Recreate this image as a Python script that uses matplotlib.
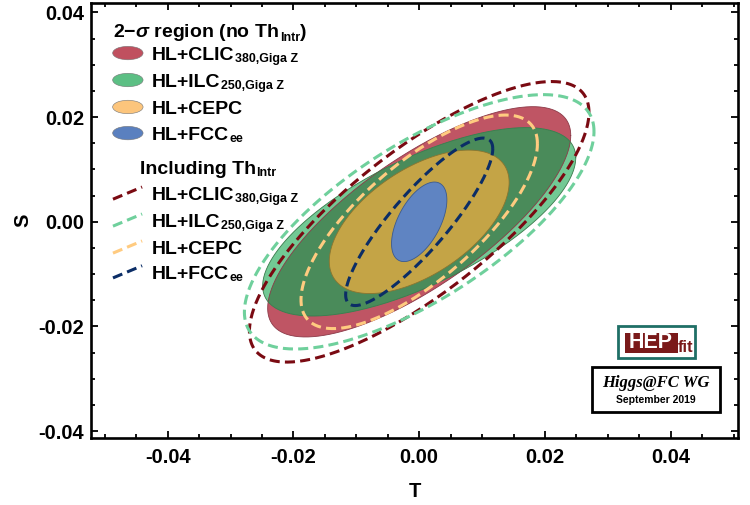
import numpy as np
import matplotlib
matplotlib.use("Agg")
import matplotlib.pyplot as plt
from matplotlib.patches import Ellipse, Rectangle
from matplotlib.lines import Line2D
from matplotlib.ticker import MultipleLocator

plt.rcParams['font.family'] = ['Liberation Sans', 'DejaVu Sans']
plt.rcParams['font.weight'] = 'bold'
plt.rcParams['mathtext.fontset'] = 'custom'
plt.rcParams['mathtext.rm'] = 'Liberation Sans:bold'
plt.rcParams['mathtext.bf'] = 'Liberation Sans:bold'
plt.rcParams['mathtext.it'] = 'Liberation Sans:italic'

# 2-sigma regions: centre, half extent in T and S, correlation
names = ["HL+CLIC", "HL+ILC", "HL+CEPC", "HL+FCC"]
subs = ["380,Giga Z", "250,Giga Z", "", "ee"]
cen_T = [0.0, 0.0, 0.0, 0.0]
cen_S = [0.0, 0.0, 0.0, 0.0]

# no theory intrinsic uncertainty (filled)
fill_T = [0.0241, 0.0249, 0.0143, 0.0044]
fill_S = [0.0220, 0.0180, 0.0137, 0.0076]
fill_rho = [0.75, 0.68, 0.55, 0.55]

# including theory intrinsic uncertainty (dashed)
incl_T = [0.0270, 0.0278, 0.0188, 0.0117]
incl_S = [0.0268, 0.0243, 0.0204, 0.0160]
incl_rho = [0.78, 0.71, 0.73, 0.87]

legend_fill = ['#c0505f', '#5cbf84', '#fcc57c', '#5a80bf']
legend_dash = ['#7a0a12', '#6fd09c', '#ffcb80', '#0b2d66']
plot_fill = ['#bf5564', '#72c994', '#c4a446', '#5f84c2']
overlap_rg = '#4a8b5a'
edge_fill = ['#8c3a48', '#3a7a4c', '#8a7530', '#3a5a90']


def ellipse(cT, cS, a, b, rho, n=400):
    t = np.linspace(0, 2 * np.pi, n)
    T = cT + a * np.cos(t)
    S = cS + b * (rho * np.cos(t) + np.sqrt(1 - rho ** 2) * np.sin(t))
    return T, S


def label(ax, x, y, main, sub, fs=14):
    t = ax.text(x, y, main, transform=ax.transAxes, fontsize=fs,
                va='baseline', zorder=20)
    s = None
    if sub:
        s = ax.annotate(sub, xy=(1, 0), xycoords=t, xytext=(0.5, 1.3),
                        textcoords='offset points', fontsize=fs * 0.64,
                        va='baseline', zorder=20)
    return t, s


fig = plt.figure(figsize=(7.5, 5.05), dpi=100)
ax = fig.add_axes([0.1213, 0.1327, 0.8627, 0.8613])

# filled regions
ell = [ellipse(cen_T[i], cen_S[i], fill_T[i], fill_S[i], fill_rho[i]) for i in range(4)]
red_patch = ax.fill(*ell[0], color=plot_fill[0], lw=0, zorder=1)[0]
ax.fill(*ell[1], color=plot_fill[1], lw=0, zorder=2)
ov = ax.fill(*ell[1], color=overlap_rg, lw=0, zorder=3)[0]
ov.set_clip_path(red_patch)
ax.plot(*ell[0], color=edge_fill[0], lw=0.6, zorder=3.5)
ax.plot(*ell[1], color=edge_fill[1], lw=0.6, zorder=3.5)
ax.fill(*ell[2], color=plot_fill[2], ec=edge_fill[2], lw=0.6, zorder=4)
ax.fill(*ell[3], color=plot_fill[3], ec=edge_fill[3], lw=0.6, zorder=5)

# dashed contours
for i in [1, 0, 2, 3]:
    T, S = ellipse(cen_T[i], cen_S[i], incl_T[i], incl_S[i], incl_rho[i])
    ax.plot(T, S, color=legend_dash[i], lw=2.2, dashes=(3.3, 1.7), zorder=6 + i)

ax.set_xlim(-0.0522, 0.0507)
ax.set_ylim(-0.0413, 0.0418)
ax.xaxis.set_major_locator(MultipleLocator(0.02))
ax.xaxis.set_minor_locator(MultipleLocator(0.005))
ax.yaxis.set_major_locator(MultipleLocator(0.02))
ax.yaxis.set_minor_locator(MultipleLocator(0.005))
ax.xaxis.set_major_formatter(plt.FormatStrFormatter('%.2f'))
ax.yaxis.set_major_formatter(plt.FormatStrFormatter('%.2f'))
ax.tick_params(which='both', direction='in', top=True, right=True, width=1.3)
ax.tick_params(which='major', length=5, labelsize=14.5, pad=7)
ax.tick_params(axis='y', which='major', pad=5)
ax.tick_params(which='minor', length=3)
for sp in ax.spines.values():
    sp.set_linewidth(1.9)
ax.set_xlabel("T", fontsize=14.5, fontweight='bold', labelpad=11)
ax.set_ylabel("S", fontsize=14.5, fontweight='bold', labelpad=4)

# legend drawn by hand
fs = 14
t0, s0 = label(ax, 0.034, 0.938 - 0.016, r"2$-\sigma$ region (no Th", "Intr", fs=fs)
ax.annotate(")", xy=(1, 0), xycoords=s0, xytext=(0.5, 2.5),
            textcoords='offset points', fontsize=fs, va='bottom')

fill_y = [0.885, 0.823, 0.761, 0.701]
for i in range(4):
    ax.add_patch(Ellipse((0.057, fill_y[i]), 0.047, 0.031, transform=ax.transAxes,
                         fc=legend_fill[i], ec='#777777', lw=0.4, zorder=20))
    label(ax, 0.094, fill_y[i] - 0.016, names[i], subs[i], fs=fs)

label(ax, 0.075, 0.623 - 0.016, "Including Th", "Intr", fs=fs)
dash_y = [0.563, 0.501, 0.439, 0.382]
for i in range(4):
    ax.add_line(Line2D([0.034, 0.079], [dash_y[i] - 0.014, dash_y[i] + 0.014],
                       transform=ax.transAxes, color=legend_dash[i], lw=2.2,
                       dashes=(3.3, 1.7), zorder=20))
    label(ax, 0.094, dash_y[i] - 0.016, names[i], subs[i], fs=fs)

# HEPfit logo
ax.add_patch(Rectangle((0.8145, 0.1839), 0.119, 0.0736, transform=ax.transAxes,
                       fc='white', ec='#1f6f66', lw=2, zorder=20))
ax.add_patch(Rectangle((0.825, 0.1954), 0.0815, 0.046, transform=ax.transAxes,
                       fc='#7a1a1a', ec='none', zorder=21))
ax.text(0.8657, 0.2184, "HEP", transform=ax.transAxes, color='white', fontsize=15.5,
        ha='center', va='center', zorder=22)
ax.text(0.9075, 0.197, "fit", transform=ax.transAxes, color='#7a1a1a', fontsize=12,
        ha='left', va='baseline', zorder=22)

# Higgs@FC WG box
ax.add_patch(Rectangle((0.7743, 0.0598), 0.1979, 0.1034, transform=ax.transAxes,
                       fc='white', ec='black', lw=2, zorder=20))
ax.text(0.873, 0.1264, "Higgs@FC WG", transform=ax.transAxes, fontsize=12,
        family='Liberation Serif', style='italic', weight='bold',
        ha='center', va='center', zorder=22)
ax.text(0.873, 0.087, "September 2019", transform=ax.transAxes, fontsize=7.5,
        ha='center', va='center', zorder=22)

fig.savefig("out.png", dpi=100)
